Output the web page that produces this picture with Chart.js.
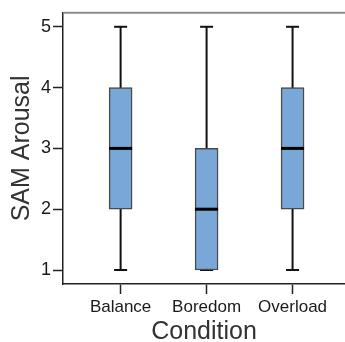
<!DOCTYPE html>
<html>
<head>
<meta charset="utf-8">
<script src="https://cdn.jsdelivr.net/npm/chart.js@4/dist/chart.umd.min.js"></script>
<style>
  html, body { margin: 0; padding: 0; background: #fff; }
  #wrap { width: 345px; height: 342px; }
</style>
</head>
<body>
<div id="wrap"><canvas id="boxChart"></canvas></div>
<script>
// box plot values
const categories = ['Balance', 'Boredom', 'Overload'];
const mins    = [1, 1, 1];
const q1s     = [2, 1, 2];
const medians = [3, 2, 3];
const q3s     = [4, 3, 4];
const maxs    = [5, 5, 5];
const yTicks  = [1, 2, 3, 4, 5];

// whiskers behind the boxes, medians on top
const boxExtras = {
    id: 'boxExtras',
    beforeDatasetsDraw(chart) {
        const ctx = chart.ctx;
        const x = chart.scales.x, y = chart.scales.y;
        ctx.save();
        ctx.strokeStyle = '#111';
        ctx.lineWidth = 2;
        categories.forEach((c, i) => {
            const px = x.getPixelForValue(i + 1);
            ctx.beginPath();
            ctx.moveTo(px, y.getPixelForValue(mins[i]));
            ctx.lineTo(px, y.getPixelForValue(maxs[i]));
            ctx.stroke();
            // caps
            [mins[i], maxs[i]].forEach(v => {
                const py = y.getPixelForValue(v);
                ctx.beginPath();
                ctx.moveTo(px - 6.5, py);
                ctx.lineTo(px + 6.5, py);
                ctx.stroke();
            });
        });
        ctx.restore();
    },
    afterDatasetsDraw(chart) {
        const ctx = chart.ctx;
        const x = chart.scales.x, y = chart.scales.y;
        ctx.save();
        ctx.strokeStyle = '#000';
        ctx.lineWidth = 3;
        categories.forEach((c, i) => {
            const px = x.getPixelForValue(i + 1);
            const py = y.getPixelForValue(medians[i]);
            ctx.beginPath();
            ctx.moveTo(px - 11.5, py);
            ctx.lineTo(px + 11.5, py);
            ctx.stroke();
        });
        // top frame line
        const a = chart.chartArea;
        ctx.strokeStyle = '#8a8a8a';
        ctx.lineWidth = 2;
        ctx.beginPath();
        ctx.moveTo(a.left, a.top);
        ctx.lineTo(chart.width, a.top);
        ctx.stroke();
        ctx.restore();
    }
};

new Chart(document.getElementById('boxChart'), {
    type: 'bar',
    data: {
        datasets: [{
            data: categories.map((c, i) => ({ x: i + 1, y: [q1s[i], q3s[i]] })),
            backgroundColor: '#79a7d7',
            borderColor: '#4a4a4a',
            borderWidth: 1.5,
            borderSkipped: false,
            barThickness: 23
        }]
    },
    options: {
        responsive: true,
        maintainAspectRatio: false,
        animation: false,
        layout: { padding: { left: 0, top: 11, right: 0, bottom: 0 } },
        plugins: { legend: { display: false }, tooltip: { enabled: false } },
        scales: {
            x: {
                type: 'linear',
                offset: false,
                min: 0.33,
                max: 3.61,
                afterBuildTicks: (axis) => { axis.ticks = [1, 2, 3].map(v => ({ value: v })); },
                ticks: {
                    callback: (v) => categories[v - 1],
                    color: '#1a1a1a',
                    font: { family: 'Liberation Sans', size: 17, lineHeight: 1 },
                    padding: 5,
                    maxRotation: 0,
                    autoSkip: false
                },
                grid: { offset: false, drawOnChartArea: false, tickLength: 10, color: '#222', tickWidth: 1.5 },
                border: { color: '#222', width: 1.5 },
                title: {
                    display: true,
                    text: 'Condition',
                    color: '#333',
                    font: { family: 'Liberation Sans', size: 25, lineHeight: 0.82 },
                    padding: { top: 0.5, bottom: 0 }
                }
            },
            y: {
                min: 0.77,
                max: 5.23,
                afterBuildTicks: (axis) => { axis.ticks = yTicks.map(v => ({ value: v })); },
                ticks: {
                    color: '#1a1a1a',
                    font: { family: 'Liberation Sans', size: 18 },
                    padding: 2
                },
                grid: { drawOnChartArea: false, tickLength: 10, color: '#222', tickWidth: 1.5 },
                border: { color: '#222', width: 1.5 },
                title: {
                    display: true,
                    text: 'SAM Arousal',
                    color: '#333',
                    font: { family: 'Liberation Sans', size: 25, lineHeight: 1 },
                    padding: { top: 9.5, bottom: 4.5 }
                }
            }
        }
    },
    plugins: [boxExtras]
});
</script>
</body>
</html>
